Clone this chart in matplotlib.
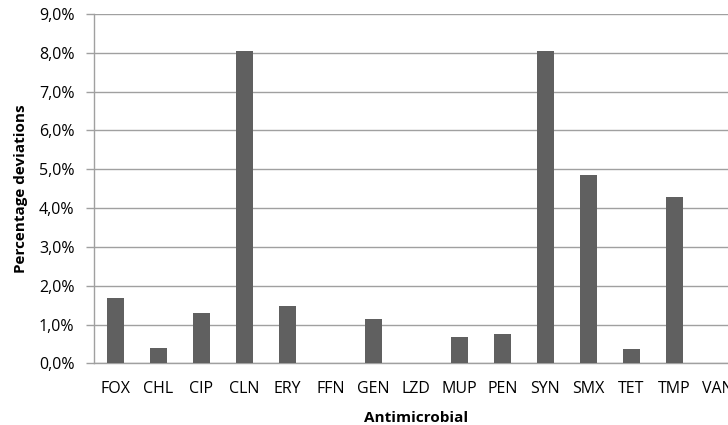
import matplotlib.pyplot as plt
from matplotlib.ticker import FuncFormatter

# Antimicrobial categories and percentage deviations (%)
antimicrobials = ["FOX", "CHL", "CIP", "CLN", "ERY", "FFN", "GEN", "LZD",
                  "MUP", "PEN", "SYN", "SMX", "TET", "TMP", "VAN"]
deviations = [1.68, 0.40, 1.29, 8.06, 1.48, 0.0, 1.15, 0.0,
              0.69, 0.76, 8.06, 4.85, 0.37, 4.28, 0.0]

plt.rcParams['font.family'] = ['Open Sans', 'DejaVu Sans']

fig = plt.figure(figsize=(7.28, 4.25), dpi=100)
ax = fig.add_axes([0.129, 0.145, 0.886, 0.822])

x = list(range(len(antimicrobials)))
ax.bar(x, deviations, width=0.4, color="#606060", zorder=3)

ax.set_xlim(-0.5, len(antimicrobials) - 0.5)
ax.set_ylim(0, 9)
ax.set_yticks(range(0, 10))
ax.yaxis.set_major_formatter(FuncFormatter(lambda v, p: f"{v:.1f}%".replace(".", ",")))
ax.set_xticks(x)
ax.set_xticklabels(antimicrobials)

ax.grid(axis="y", color="#a0a0a0", linewidth=1.0, zorder=0)
for side in ["top", "right"]:
    ax.spines[side].set_visible(False)
for side in ["left", "bottom"]:
    ax.spines[side].set_color("#a0a0a0")
    ax.spines[side].set_linewidth(1.0)

ax.tick_params(axis="y", length=6, width=1, color="#a0a0a0", labelsize=11.5, pad=8)
ax.tick_params(axis="x", length=0, labelsize=11.5, pad=13)

ax.set_xlabel("Antimicrobial", fontsize=11, fontweight="bold", labelpad=10)
ax.set_ylabel("Percentage deviations", fontsize=11, fontweight="bold", labelpad=8)

fig.savefig("out.png", dpi=100)
